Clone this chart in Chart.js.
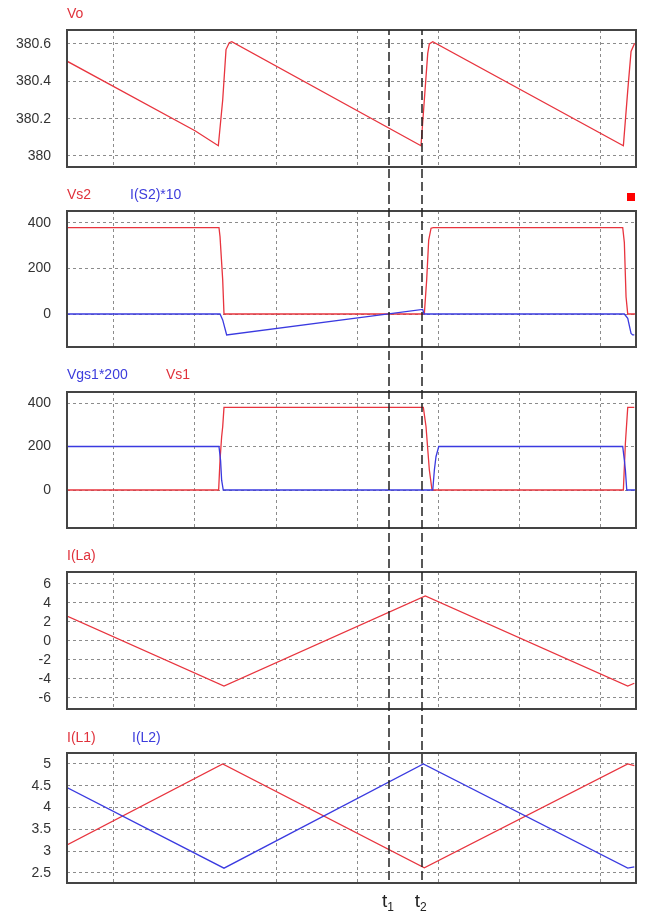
<!DOCTYPE html>
<html>
<head>
<meta charset="utf-8">
<script src="https://cdn.jsdelivr.net/npm/chart.js@4.4.1/dist/chart.umd.min.js"></script>
<style>
  body { margin: 0; background: #fff; }
  #wrap { position: relative; width: 646px; height: 912px; font-family: "Liberation Sans", Arial, sans-serif; overflow: hidden; }
  canvas { position: absolute; left: 0; }
  .ttl { position: absolute; font-size: 14px; line-height: 16px; white-space: nowrap; z-index: 2; }
  .red { color: #e0323c; }
  .blue { color: #3c3cdc; }
  .tlab { position: absolute; top: 890px; font-size: 19px; line-height: 22px; color: #222; z-index: 2; white-space: nowrap; }
  .tlab sub { font-size: 12px; vertical-align: -4px; }
  #sq { position: absolute; left: 627px; top: 193px; width: 8px; height: 8px; background: #f00; z-index: 2; }
</style>
</head>
<body>
<div id="wrap">
  <canvas id="c1" width="646" height="180" style="top:0px"></canvas>
  <canvas id="c2" width="646" height="178" style="top:180px"></canvas>
  <canvas id="c3" width="646" height="180" style="top:358px"></canvas>
  <canvas id="c4" width="646" height="180" style="top:538px"></canvas>
  <canvas id="c5" width="646" height="194" style="top:718px"></canvas>

  <div class="ttl red" style="left:67px; top:5px">Vo</div>
  <div class="ttl red" style="left:67px; top:186px">Vs2</div>
  <div class="ttl blue" style="left:130px; top:186px">I(S2)*10</div>
  <div id="sq"></div>
  <div class="ttl blue" style="left:67px; top:366px">Vgs1*200</div>
  <div class="ttl red" style="left:166px; top:366px">Vs1</div>
  <div class="ttl red" style="left:67px; top:547px">I(La)</div>
  <div class="ttl red" style="left:67px; top:729px">I(L1)</div>
  <div class="ttl blue" style="left:132px; top:729px">I(L2)</div>
  <div class="tlab" id="lab1">t<sub>1</sub></div>
  <div class="tlab" id="lab2">t<sub>2</sub></div>
</div>
<script>
// time axis in grid divisions, gridlines at 1..7
const timeMin = 0.42, timeMax = 7.444;
const timeGrid = [1, 2, 3, 4, 5, 6, 7];
const markTimes = [4.395, 4.80]; // t1, t2

// Vo
const voTime  = [0.42, 2.0, 2.288, 2.342, 2.383, 2.423, 2.454, 4.79, 4.831, 4.873, 4.893, 4.935, 7.288, 7.342, 7.383, 7.423, 7.444];
const voValue = [380.508, 380.135, 380.055, 380.30, 380.57, 380.607, 380.612, 380.055, 380.30, 380.55, 380.60, 380.612, 380.055, 380.35, 380.56, 380.60, 380.605];

// Vs2 and I(S2)*10
const vs2Time  = [0.42, 2.296, 2.309, 2.342, 2.358, 4.831, 4.860, 4.885, 4.914, 4.942, 7.280, 7.300, 7.321, 7.342, 7.444];
const vs2Value = [380, 380, 340, 150, 0, 0, 150, 325, 377, 380, 380, 315, 76, 0, 0];
const is2Time  = [0.42, 2.309, 2.342, 2.391, 4.811, 4.827, 7.300, 7.342, 7.383, 7.403, 7.423];
const is2Value = [0, 0, -26, -92, 20, 0, 0, -19, -85, -92, -92];

// Vgs1*200 and Vs1
const vgsTime  = [0.42, 2.296, 2.316, 2.329, 2.349, 4.935, 4.955, 4.975, 5.009, 7.280, 7.300, 7.313, 7.330, 7.444];
const vgsValue = [200, 200, 135, 45, 0, 0, 92, 153, 200, 200, 138, 92, 0, 0];
const vs1Time  = [0.42, 2.292, 2.309, 2.329, 2.342, 2.358, 4.819, 4.852, 4.893, 4.926, 7.288, 7.313, 7.342, 7.423];
const vs1Value = [0, 0, 138, 245, 291, 380, 380, 291, 92, 0, 0, 215, 380, 380];

// I(La)
const ilaTime  = [0.42, 2.358, 4.843, 7.342, 7.423];
const ilaValue = [2.63, -4.74, 4.74, -4.74, -4.45];

// I(L1), I(L2)
const il1Time  = [0.42, 2.342, 4.831, 7.342, 7.423];
const il1Value = [3.14, 5.0, 2.62, 5.0, 4.96];
const il2Time  = [0.42, 2.358, 4.819, 7.342, 7.423];
const il2Value = [4.46, 2.61, 5.0, 2.61, 2.64];

// y tick labels
const voTicks  = [380, 380.2, 380.4, 380.6];
const vsTicks  = [0, 200, 400];
const ilaTicks = [-6, -4, -2, 0, 2, 4, 6];
const ilTicks  = [2.5, 3, 3.5, 4, 4.5, 5];

const RED = '#e8343e', BLUE = '#3a3ae0', GRID = '#8c8c8c';

function pts(times, values) {
    return times.map((t, i) => ({ x: t, y: values[i] }));
}

function line(times, values, color) {
    return { data: pts(times, values), borderColor: color, borderWidth: 1.3, pointRadius: 0, tension: 0 };
}

// box round the plot area
const framePlugin = {
    id: 'frame',
    afterDatasetsDraw(chart) {
        const a = chart.chartArea, ctx = chart.ctx;
        ctx.save();
        ctx.strokeStyle = '#444';
        ctx.lineWidth = 2;
        ctx.strokeRect(a.left, a.top, a.right - a.left, a.bottom - a.top);
        ctx.restore();
    }
};

// dashed t1 / t2 lines running through all panels
const markPlugin = {
    id: 'marks',
    afterDraw(chart, args, opts) {
        const ctx = chart.ctx, xs = chart.scales.x;
        const y0 = opts.fromArea ? chart.chartArea.top : 0;
        const y1 = opts.toArea ? chart.chartArea.bottom : chart.height;
        ctx.save();
        ctx.strokeStyle = '#222';
        ctx.lineWidth = 1.5;
        ctx.setLineDash([9, 4]);
        ctx.lineDashOffset = opts.top + y0;
        markTimes.forEach(t => {
            const px = Math.round(xs.getPixelForValue(t));
            ctx.beginPath();
            ctx.moveTo(px, y0);
            ctx.lineTo(px, y1);
            ctx.stroke();
        });
        ctx.restore();
    }
};

function panel(id, top, area, yMin, yMax, yTicks, datasets, marks) {
    const canvas = document.getElementById(id);
    return new Chart(canvas, {
        type: 'line',
        data: { datasets: datasets },
        options: {
            responsive: false,
            animation: false,
            layout: { padding: { left: 0, right: 646 - area.right, top: area.top - top, bottom: top + canvas.height - area.bottom } },
            plugins: {
                legend: { display: false },
                tooltip: { enabled: false },
                marks: Object.assign({ top: top }, marks)
            },
            scales: {
                x: {
                    type: 'linear', min: timeMin, max: timeMax,
                    ticks: { display: false },
                    grid: { color: GRID, lineWidth: 1, drawTicks: false },
                    border: { display: false, dash: [3, 3] },
                    afterBuildTicks: s => { s.ticks = timeGrid.map(v => ({ value: v })); },
                    afterFit: s => { s.height = 0; s.paddingLeft = 0; s.paddingRight = 0; }
                },
                y: {
                    min: yMin, max: yMax,
                    ticks: {
                        color: '#333', padding: 16,
                        font: { family: '"Liberation Sans", Arial, sans-serif', size: 14 },
                        callback: v => String(v)
                    },
                    grid: { color: GRID, lineWidth: 1, drawTicks: false },
                    border: { display: false, dash: [3, 3] },
                    afterBuildTicks: s => { s.ticks = yTicks.map(v => ({ value: v })); },
                    afterFit: s => { s.width = area.left; s.paddingTop = 0; s.paddingBottom = 0; }
                }
            }
        },
        plugins: [framePlugin, markPlugin]
    });
}

const L = 67, R = 636;

panel('c1', 0, { left: L, right: R, top: 30, bottom: 167 }, 379.941, 380.675, voTicks,
    [line(voTime, voValue, RED)], { fromArea: true });

panel('c2', 180, { left: L, right: R, top: 211, bottom: 347 }, -145, 452.7, vsTicks,
    [line(is2Time, is2Value, BLUE), line(vs2Time, vs2Value, RED)], {});

panel('c3', 358, { left: L, right: R, top: 392, bottom: 528 }, -174.7, 450.6, vsTicks,
    [line(vgsTime, vgsValue, BLUE), line(vs1Time, vs1Value, RED)], {});

panel('c4', 538, { left: L, right: R, top: 572, bottom: 709 }, -7.16, 7.26, ilaTicks,
    [line(ilaTime, ilaValue, RED)], {});

const last = panel('c5', 718, { left: L, right: R, top: 753, bottom: 883 }, 2.27, 5.25, ilTicks,
    [line(il2Time, il2Value, BLUE), line(il1Time, il1Value, RED)], { toArea: true });

// t1 / t2 labels sit just left of their lines
['lab1', 'lab2'].forEach((id, i) => {
    const px = last.scales.x.getPixelForValue(markTimes[i]);
    document.getElementById(id).style.left = (px - 7) + 'px';
});
</script>
</body>
</html>
